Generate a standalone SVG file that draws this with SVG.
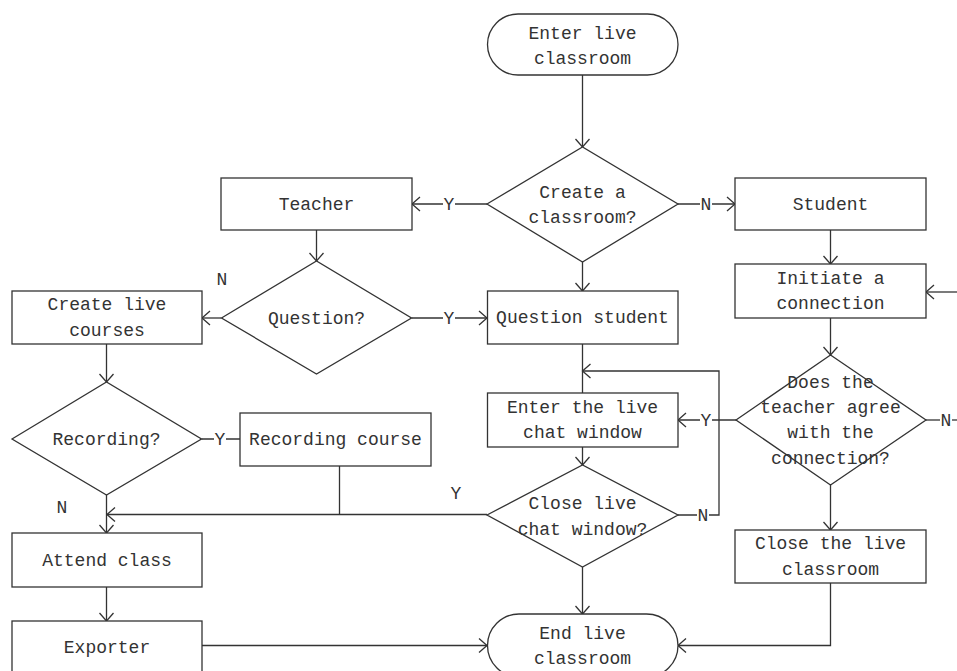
<svg xmlns="http://www.w3.org/2000/svg" width="957" height="671" viewBox="0 0 957 671">
<style>
.box{fill:#fff;stroke:#333;stroke-width:1.3}
.t{font-family:"Liberation Mono",monospace;font-size:18px;fill:#333;text-anchor:middle}
.ln{fill:none;stroke:#333;stroke-width:1.3}
.bg{fill:#fff}
</style>
<defs>
<marker id="arr" viewBox="-10 -8 12 16" refX="0" refY="0" markerWidth="12" markerHeight="16" markerUnits="userSpaceOnUse" orient="auto">
<path d="M-8,-7 L0,0 L-8,7" fill="none" stroke="#333" stroke-width="1.3"/>
</marker>
</defs>
<rect width="957" height="671" fill="#fff"/>

<g id="connectors">
<path class="ln" d="M582.5,75 V147" marker-end="url(#arr)"/>
<path class="ln" d="M487,204 H412" marker-end="url(#arr)"/>
<path class="ln" d="M678,204 H735" marker-end="url(#arr)"/>
<path class="ln" d="M316.5,230 V261" marker-end="url(#arr)"/>
<path class="ln" d="M582.5,262 V291" marker-end="url(#arr)"/>
<path class="ln" d="M830.5,230 V264" marker-end="url(#arr)"/>
<path class="ln" d="M957,292 H926" marker-end="url(#arr)"/>
<path class="ln" d="M221.5,318 H202" marker-end="url(#arr)"/>
<path class="ln" d="M411.5,318 H487" marker-end="url(#arr)"/>
<path class="ln" d="M830.5,318 V355" marker-end="url(#arr)"/>
<path class="ln" d="M106.5,344 V382" marker-end="url(#arr)"/>
<path class="ln" d="M582.5,344 V393"/>
<path class="ln" d="M678,515 H719 V371 H582.5" marker-end="url(#arr)"/>
<path class="ln" d="M736,420 H678" marker-end="url(#arr)"/>
<path class="ln" d="M926,420 H957"/>
<path class="ln" d="M201.5,439 H240"/>
<path class="ln" d="M582.5,447 V465" marker-end="url(#arr)"/>
<path class="ln" d="M339.5,466 V514.5"/>
<path class="ln" d="M487,514.5 H107" marker-end="url(#arr)"/>
<path class="ln" d="M106.5,495 V533" marker-end="url(#arr)"/>
<path class="ln" d="M830.5,485 V530" marker-end="url(#arr)"/>
<path class="ln" d="M582.5,567 V614" marker-end="url(#arr)"/>
<path class="ln" d="M106.5,587 V621" marker-end="url(#arr)"/>
<path class="ln" d="M202,645.5 H487" marker-end="url(#arr)"/>
<path class="ln" d="M830.5,583 V645.5 H678" marker-end="url(#arr)"/>
<rect class="bg" x="443" y="196" width="12" height="16"/>
<text class="t" x="449" y="210">Y</text>
<rect class="bg" x="700" y="196" width="12" height="16"/>
<text class="t" x="706" y="210">N</text>
<rect class="bg" x="443" y="310" width="12" height="16"/>
<text class="t" x="449" y="324">Y</text>
<text class="t" x="222" y="285">N</text>
<rect class="bg" x="700" y="412" width="12" height="16"/>
<text class="t" x="706" y="426">Y</text>
<rect class="bg" x="940" y="412" width="12" height="16"/>
<text class="t" x="946" y="426">N</text>
<rect class="bg" x="214" y="431" width="12" height="16"/>
<text class="t" x="220" y="445">Y</text>
<text class="t" x="456" y="499">Y</text>
<rect class="bg" x="697" y="507" width="12" height="16"/>
<text class="t" x="703" y="521">N</text>
<text class="t" x="62" y="513">N</text>
</g>

<g id="enter">
<rect class="box" x="487.5" y="14" width="190.5" height="61" rx="30.5"/>
<text class="t" x="582.5" y="39">Enter live</text>
<text class="t" x="582.5" y="64">classroom</text>
</g>
<g id="create">
<path class="box" d="M487,204 L582.5,147 L678,204 L582.5,262 Z"/>
<text class="t" x="582.5" y="198">Create a</text>
<text class="t" x="582.5" y="223">classroom?</text>
</g>
<g id="teacher">
<rect class="box" x="221" y="178" width="191" height="52"/>
<text class="t" x="316.5" y="210">Teacher</text>
</g>
<g id="student">
<rect class="box" x="735" y="178" width="191" height="52"/>
<text class="t" x="830.5" y="210">Student</text>
</g>
<g id="question">
<path class="box" d="M221.5,318 L316.5,261 L411.5,318 L316.5,374 Z"/>
<text class="t" x="316.5" y="324">Question?</text>
</g>
<g id="createlive">
<rect class="box" x="12" y="291" width="190" height="53"/>
<text class="t" x="107" y="310">Create live</text>
<text class="t" x="107" y="336">courses</text>
</g>
<g id="qstudent">
<rect class="box" x="487.5" y="291" width="190.5" height="53"/>
<text class="t" x="582.5" y="323">Question student</text>
</g>
<g id="initiate">
<rect class="box" x="735" y="264" width="191" height="54"/>
<text class="t" x="830.5" y="284">Initiate a</text>
<text class="t" x="830.5" y="309">connection</text>
</g>
<g id="agree">
<path class="box" d="M736,420 L830.5,355 L926,420 L830.5,485 Z"/>
<text class="t" x="830.5" y="388">Does the</text>
<text class="t" x="830.5" y="413">teacher agree</text>
<text class="t" x="830.5" y="438">with the</text>
<text class="t" x="830.5" y="464">connection?</text>
</g>
<g id="chat">
<rect class="box" x="487.5" y="393" width="190.5" height="54"/>
<text class="t" x="582.5" y="413">Enter the live</text>
<text class="t" x="582.5" y="438">chat window</text>
</g>
<g id="recording">
<path class="box" d="M12,439 L106.5,382 L201.5,439 L106.5,495 Z"/>
<text class="t" x="106.5" y="445">Recording?</text>
</g>
<g id="reccourse">
<rect class="box" x="240" y="413" width="191" height="53"/>
<text class="t" x="335.5" y="445">Recording course</text>
</g>
<g id="closechat">
<path class="box" d="M487,515 L582.5,465 L678,515 L582.5,567 Z"/>
<text class="t" x="582.5" y="509">Close live</text>
<text class="t" x="582.5" y="535">chat window?</text>
</g>
<g id="closeclass">
<rect class="box" x="735" y="530" width="191" height="53"/>
<text class="t" x="830.5" y="549">Close the live</text>
<text class="t" x="830.5" y="575">classroom</text>
</g>
<g id="attend">
<rect class="box" x="12" y="533" width="190" height="54"/>
<text class="t" x="107" y="566">Attend class</text>
</g>
<g id="exporter">
<rect class="box" x="12" y="621" width="190" height="55"/>
<text class="t" x="107" y="653">Exporter</text>
</g>
<g id="end">
<rect class="box" x="487.5" y="614" width="190.5" height="63" rx="31.5"/>
<text class="t" x="582.5" y="639">End live</text>
<text class="t" x="582.5" y="664">classroom</text>
</g>
</svg>
